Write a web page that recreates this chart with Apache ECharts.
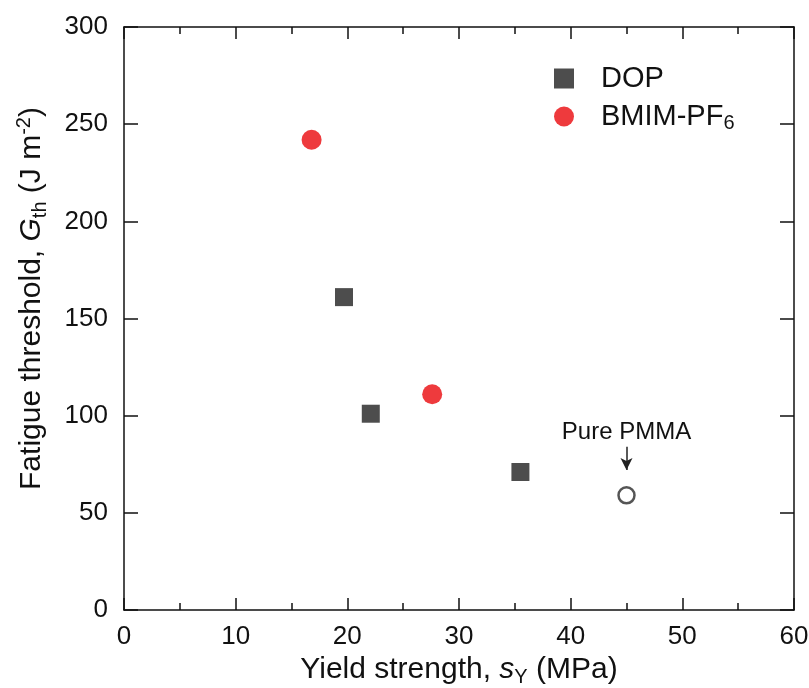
<!DOCTYPE html>
<html>
<head>
<meta charset="utf-8">
<script src="https://cdn.jsdelivr.net/npm/echarts@6/dist/echarts.min.js"></script>
<style>
html, body { margin: 0; padding: 0; background: #fff; }
#chart { width: 809px; height: 688px; }
</style>
</head>
<body>
<div id="chart"></div>
<script>
// data
var dopX = [19.7, 22.1, 35.5];
var dopY = [161, 101, 71];
var bmimX = [16.8, 27.6];
var bmimY = [242, 111];
var pureX = [45];
var pureY = [59];
var arrowY = [84, 72];

function pairs(xs, ys) {
  var out = [];
  for (var i = 0; i < xs.length; i++) out.push([xs[i], ys[i]]);
  return out;
}

var font = 'Liberation Sans';
var ink = '#111';
var chart = echarts.init(document.getElementById('chart'));

var option = {
  animation: false,
  backgroundColor: '#fff',
  grid: { left: 124, right: 15, top: 27, bottom: 78, show: false, outerBoundsMode: 'none', containLabel: false },
  legend: {
    orient: 'vertical',
    left: 549,
    top: 59,
    itemWidth: 20,
    itemHeight: 20,
    itemGap: 9,
    data: [
      { name: 'DOP', icon: 'rect' },
      { name: 'BMIM-PF6', icon: 'circle' }
    ],
    formatter: function (name) {
      if (name === 'BMIM-PF6') return '{a|BMIM-PF}{sub|6}';
      return '{a|' + name + '}';
    },
    textStyle: {
      padding: [0, 0, 0, 22],
      rich: {
        a: { fontFamily: font, fontSize: 29, color: ink },
        sub: { fontFamily: font, fontSize: 20, color: ink, verticalAlign: 'bottom', padding: [14, 0, 0, 0] }
      }
    }
  },
  xAxis: [
    {
      type: 'value', position: 'bottom', min: 0, max: 60, interval: 10,
      name: '{a|Yield strength, }{i|s}{sub|Y}{a| (MPa)}',
      nameLocation: 'middle', nameGap: 33,
      nameTextStyle: {
        rich: {
          a: { fontFamily: font, fontSize: 30, color: ink },
          i: { fontFamily: font, fontSize: 30, color: ink, fontStyle: 'italic' },
          sub: { fontFamily: font, fontSize: 20, color: ink, verticalAlign: 'bottom', padding: [16, 0, 0, 0] }
        }
      },
      axisLine: { show: true, onZero: false, lineStyle: { color: ink, width: 1.5 } },
      axisTick: { show: true, inside: true, length: 12, lineStyle: { color: ink, width: 1.5 } },
      minorTick: { show: true, splitNumber: 2, length: 7, lineStyle: { color: ink, width: 1.5 } },
      axisLabel: { fontFamily: font, fontSize: 26, color: ink, margin: 14 },
      splitLine: { show: false }
    },
    {
      type: 'value', position: 'top', min: 0, max: 60, interval: 10,
      axisLine: { show: true, onZero: false, lineStyle: { color: ink, width: 1.5 } },
      axisTick: { show: true, inside: true, length: 12, lineStyle: { color: ink, width: 1.5 } },
      minorTick: { show: true, splitNumber: 2, length: 7, lineStyle: { color: ink, width: 1.5 } },
      axisLabel: { show: false },
      splitLine: { show: false }
    }
  ],
  yAxis: [
    {
      type: 'value', position: 'left', min: 0, max: 300, interval: 50,
      name: '{a|Fatigue threshold, }{i|G}{sub|th}{a| (J m}{sup|-2}{a|)}',
      nameLocation: 'middle', nameGap: 74, nameRotate: 90,
      nameTextStyle: {
        padding: [0, 0, 0, 40],
        rich: {
          a: { fontFamily: font, fontSize: 30, color: ink },
          i: { fontFamily: font, fontSize: 30, color: ink, fontStyle: 'italic' },
          sub: { fontFamily: font, fontSize: 20, color: ink, verticalAlign: 'bottom', padding: [16, 0, 0, 0] },
          sup: { fontFamily: font, fontSize: 20, color: ink, verticalAlign: 'top', padding: [0, 0, 14, 0] }
        }
      },
      axisLine: { show: true, onZero: false, lineStyle: { color: ink, width: 1.5 } },
      axisTick: { show: true, inside: true, length: 14, lineStyle: { color: ink, width: 1.5 } },
      axisLabel: { fontFamily: font, fontSize: 26, color: ink, margin: 16 },
      splitLine: { show: false }
    },
    {
      type: 'value', position: 'right', min: 0, max: 300, interval: 50,
      axisLine: { show: true, onZero: false, lineStyle: { color: ink, width: 1.5 } },
      axisTick: { show: true, inside: true, length: 14, lineStyle: { color: ink, width: 1.5 } },
      axisLabel: { show: false },
      splitLine: { show: false }
    }
  ],
  series: [
    {
      name: 'DOP', type: 'scatter', symbol: 'rect', symbolSize: 18,
      itemStyle: { color: '#4d4d4d', opacity: 1 },
      data: pairs(dopX, dopY)
    },
    {
      name: 'BMIM-PF6', type: 'scatter', symbol: 'circle', symbolSize: 20,
      itemStyle: { color: '#ee3a3d', opacity: 1 },
      data: pairs(bmimX, bmimY)
    },
    {
      name: 'Pure PMMA', type: 'scatter', symbol: 'circle', symbolSize: 16,
      itemStyle: { color: '#fff', borderColor: '#555', borderWidth: 2.5, opacity: 1 },
      label: {
        show: true, position: 'top', distance: 42,
        formatter: 'Pure PMMA',
        fontFamily: font, fontSize: 24, color: ink
      },
      data: pairs(pureX, pureY),
      markLine: {
        silent: true,
        symbol: ['none', 'arrow'],
        symbolSize: [9, 12],
        label: { show: false },
        lineStyle: { color: '#222', width: 1.5, type: 'solid' },
        data: [[{ coord: [pureX[0], arrowY[0]] }, { coord: [pureX[0], arrowY[1]] }]]
      }
    }
  ]
};

chart.setOption(option);
</script>
</body>
</html>
